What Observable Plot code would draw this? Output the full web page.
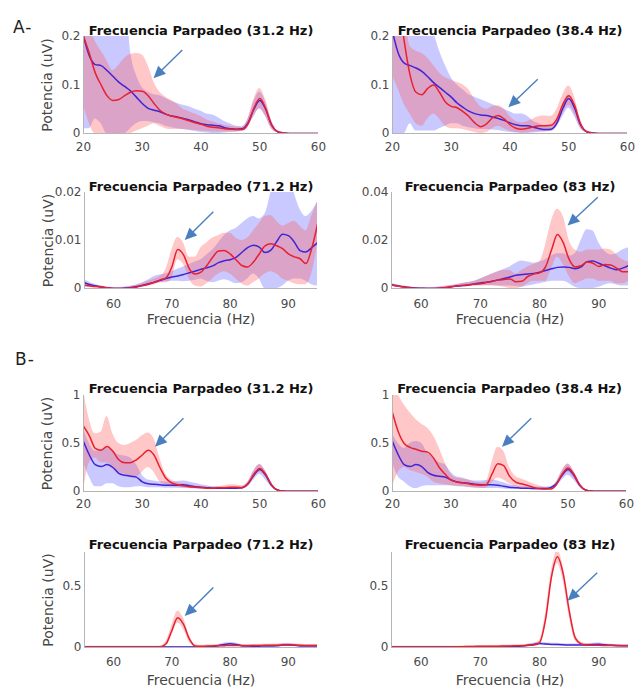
<!DOCTYPE html>
<html><head><meta charset="utf-8">
<script src="https://cdn.jsdelivr.net/npm/d3@7"></script>
<script src="https://cdn.jsdelivr.net/npm/@observablehq/plot@0.6"></script>
<style>
body{margin:0;background:#fff;}
#fig{position:relative;width:635px;height:690px;overflow:hidden;background:#fff;}
.panel{position:absolute;}
.tag{position:absolute;font-family:"DejaVu Sans";font-size:17px;line-height:17px;color:#222;letter-spacing:1px;}
</style></head><body><div id="fig"></div>
<script>
// ---------- DATA ----------
const freqLow = [20,21,22,23,24,25,26,27,28,29,30,31,32,33,34,35,36,37,38,39,40,41,42,43,44,45,46,47,48,49,50,51,52,53,54,55,56,57,58,59,60];
const freqHigh = [55,56,57,58,59,60,61,62,63,64,65,66,67,68,69,70,71,72,73,74,75,76,77,78,79,80,81,82,83,84,85,86,87,88,89,90,91,92,93,94,95];

const titles = ["Frecuencia Parpadeo (31.2 Hz)","Frecuencia Parpadeo (38.4 Hz)","Frecuencia Parpadeo (71.2 Hz)","Frecuencia Parpadeo (83 Hz)",
                "Frecuencia Parpadeo (31.2 Hz)","Frecuencia Parpadeo (38.4 Hz)","Frecuencia Parpadeo (71.2 Hz)","Frecuencia Parpadeo (83 Hz)"];
const sectionLabels = ["A-","B-"];
const yLabel = "Potencia (uV)";
const xLabel = "Frecuencia (Hz)";

const xTicksLow = [20,30,40,50,60], xTickLabelsLow = ["20","30","40","50","60"];
const xTicksHigh = [60,70,80,90], xTickLabelsHigh = ["60","70","80","90"];
const yTicksA1 = [0,0.1,0.2], yTickLabelsA1 = ["0","0.1","0.2"];
const yTicksA3 = [0,0.01,0.02], yTickLabelsA3 = ["0","0.01","0.02"];
const yTicksA4 = [0,0.02,0.04], yTickLabelsA4 = ["0","0.02","0.04"];
const yTicksB1 = [0,0.5,1], yTickLabelsB1 = ["0","0.5","1"];
const yTicksB3 = [0,0.5], yTickLabelsB3 = ["0","0.5"];

// A - 31.2 Hz
const a1Red    = [0.200,0.165,0.125,0.100,0.078,0.068,0.070,0.078,0.085,0.088,0.087,0.078,0.062,0.048,0.040,0.036,0.033,0.030,0.026,0.022,0.019,0.015,0.013,0.012,0.010,0.009,0.008,0.008,0.020,0.052,0.072,0.052,0.018,0.004,0.001,0,0,0,0,0,0];
const a1RedLo  = [0.060,0.020,0,0,0,0,0,0,0,0.005,0.010,0.015,0.020,0.015,0.010,0.008,0.008,0.008,0.007,0.006,0.005,0.004,0.003,0.003,0.003,0.003,0.003,0.004,0.012,0.035,0.052,0.035,0.010,0.002,0,0,0,0,0,0,0];
const a1RedHi  = [0.25,0.22,0.19,0.17,0.15,0.13,0.14,0.155,0.163,0.165,0.162,0.14,0.105,0.085,0.075,0.068,0.06,0.05,0.045,0.04,0.035,0.028,0.024,0.02,0.017,0.015,0.013,0.013,0.03,0.07,0.093,0.07,0.028,0.006,0.002,0,0,0,0,0,0];
const a1Blue   = [0.200,0.160,0.142,0.140,0.130,0.118,0.106,0.097,0.088,0.075,0.062,0.052,0.048,0.045,0.040,0.036,0.034,0.031,0.028,0.024,0.020,0.018,0.017,0.016,0.012,0.010,0.009,0.010,0.022,0.050,0.068,0.050,0.018,0.004,0.001,0,0,0,0,0,0];
const a1BlueLo = [0.01,0.01,0.03,0.02,0,0,0,0,0.01,0.02,0.025,0.025,0.022,0.02,0.015,0.012,0.01,0.008,0.006,0.004,0.002,0.001,0,0,0.001,0.002,0.003,0.005,0.014,0.035,0.05,0.035,0.01,0.002,0,0,0,0,0,0,0];
const a1BlueHi = [0.3,0.3,0.3,0.3,0.3,0.3,0.3,0.3,0.17,0.12,0.095,0.085,0.08,0.078,0.072,0.066,0.062,0.058,0.055,0.05,0.046,0.04,0.038,0.032,0.025,0.02,0.015,0.014,0.03,0.065,0.085,0.065,0.026,0.006,0.002,0,0,0,0,0,0];

// A - 38.4 Hz
const a2Red    = [0.35,0.28,0.19,0.12,0.085,0.080,0.093,0.100,0.085,0.065,0.056,0.053,0.045,0.035,0.022,0.014,0.020,0.032,0.037,0.030,0.018,0.011,0.009,0.011,0.014,0.016,0.016,0.017,0.030,0.060,0.078,0.058,0.020,0.004,0.001,0,0,0,0,0,0];
const a2RedLo  = [0.12,0.09,0.06,0.04,0.02,0.015,0.03,0.04,0.03,0.015,0.01,0.01,0.008,0.005,0.002,0,0.002,0.01,0.015,0.01,0.005,0.002,0.001,0.002,0.003,0.004,0.004,0.005,0.015,0.04,0.058,0.04,0.012,0.002,0,0,0,0,0,0,0];
const a2RedHi  = [0.4,0.35,0.25,0.18,0.17,0.165,0.155,0.14,0.125,0.115,0.11,0.105,0.1,0.09,0.07,0.055,0.05,0.055,0.057,0.05,0.035,0.025,0.022,0.025,0.03,0.035,0.036,0.035,0.05,0.08,0.098,0.075,0.03,0.006,0.002,0,0,0,0,0,0];
const a2Blue   = [0.210,0.165,0.145,0.140,0.135,0.128,0.117,0.105,0.095,0.085,0.075,0.063,0.054,0.046,0.041,0.038,0.037,0.034,0.031,0.027,0.022,0.018,0.016,0.016,0.013,0.010,0.008,0.009,0.022,0.052,0.072,0.052,0.018,0.004,0.001,0,0,0,0,0,0];
const a2BlueLo = [0,0,0,0.02,0.005,0.005,0.005,0.005,0.01,0.015,0.02,0.02,0.015,0.012,0.01,0.008,0.008,0.007,0.006,0.004,0.002,0.001,0,0,0.001,0.002,0.003,0.004,0.014,0.035,0.052,0.035,0.01,0.002,0,0,0,0,0,0,0];
const a2BlueHi = [0.3,0.3,0.3,0.3,0.3,0.3,0.25,0.21,0.17,0.14,0.115,0.10,0.09,0.08,0.075,0.07,0.065,0.06,0.055,0.05,0.045,0.04,0.04,0.035,0.025,0.02,0.015,0.015,0.03,0.06,0.08,0.06,0.025,0.006,0.002,0,0,0,0,0,0];

// A - 71.2 Hz
const a3Red    = [0.0007,0.0005,0.0004,0.0003,0.0001,0,0,0,0.0001,0.0003,0.0006,0.0009,0.0013,0.0018,0.0022,0.0045,0.0081,0.0070,0.0041,0.0030,0.0034,0.0048,0.0065,0.0078,0.0079,0.0072,0.0060,0.0048,0.0045,0.0055,0.0072,0.0089,0.0093,0.0089,0.0083,0.0072,0.0066,0.0062,0.0052,0.0083,0.0134];
const a3RedLo  = [0.0003,0.0002,0.0001,0.0001,0,0,0,0,0,0.0001,0.0003,0.0005,0.0008,0.0012,0.0012,0.002,0.006,0.005,0.002,0.0005,0.0003,0.001,0.002,0.003,0.0035,0.003,0.002,0.001,0.0005,0.0012,0.002,0.003,0.0035,0.003,0.002,0.0015,0.001,0.0008,0.0008,0.003,0.009];
const a3RedHi  = [0.0012,0.0009,0.0006,0.0004,0.0002,0.0001,0.0001,0.0002,0.0004,0.0007,0.0011,0.0015,0.002,0.0025,0.004,0.008,0.0106,0.0095,0.0065,0.0065,0.0085,0.0095,0.0105,0.011,0.0115,0.0115,0.0105,0.01,0.0105,0.012,0.0135,0.015,0.0152,0.014,0.013,0.0135,0.014,0.013,0.012,0.015,0.018];
const a3Blue   = [0.0012,0.0008,0.0005,0.0003,0.0001,0,0,0.0001,0.0002,0.0004,0.0007,0.0010,0.0013,0.0017,0.0021,0.0024,0.0026,0.0029,0.0033,0.0036,0.0040,0.0043,0.0047,0.0054,0.0058,0.0060,0.0065,0.0075,0.0085,0.0090,0.0086,0.0075,0.0080,0.0098,0.0113,0.0110,0.0097,0.0079,0.0076,0.0085,0.0095];
const a3BlueLo = [0.0006,0.0004,0.0002,0.0001,0,0,0,0,0,0.0001,0.0003,0.0006,0.001,0.0012,0.0014,0.0015,0.0015,0.0014,0.0015,0.0017,0.002,0.0015,0.0012,0.0015,0.0018,0.0015,0.001,0.0012,0.002,0.003,0.002,0,0,0,0.0005,0.0015,0.002,0.002,0.0015,0.0008,0.0005];
const a3BlueHi = [0.0018,0.0012,0.0008,0.0005,0.0003,0.0002,0.0002,0.0003,0.0005,0.0008,0.0012,0.0018,0.0025,0.0028,0.003,0.0035,0.004,0.0045,0.005,0.0055,0.006,0.007,0.008,0.0095,0.011,0.012,0.0125,0.0135,0.0145,0.015,0.0145,0.0155,0.02,0.025,0.025,0.025,0.02,0.0165,0.015,0.016,0.018];

// A - 83 Hz
const a4Red    = [0.0015,0.001,0.0006,0.0003,0.0001,0,0,0,0.0001,0.0003,0.0007,0.001,0.0013,0.0016,0.0018,0.002,0.0025,0.003,0.0035,0.0038,0.004,0.0028,0.003,0.005,0.006,0.0065,0.009,0.016,0.0225,0.019,0.012,0.009,0.0095,0.011,0.0105,0.0092,0.010,0.0098,0.0085,0.007,0.007];
const a4RedLo  = [0.001,0.0006,0.0003,0.0001,0,0,0,0,0,0.0001,0.0003,0.0005,0.0007,0.001,0.001,0.001,0.001,0.001,0.0008,0.0005,0,0,0.0005,0.002,0.003,0.003,0.003,0.008,0.013,0.01,0.005,0.002,0.003,0.004,0.004,0.003,0.003,0.003,0.002,0.002,0.003];
const a4RedHi  = [0.002,0.0015,0.001,0.0006,0.0003,0.0002,0.0002,0.0003,0.0005,0.0008,0.0012,0.0016,0.002,0.0025,0.003,0.004,0.005,0.006,0.007,0.0075,0.0075,0.006,0.0075,0.009,0.01,0.011,0.018,0.028,0.033,0.03,0.02,0.016,0.015,0.016,0.016,0.016,0.0165,0.016,0.014,0.012,0.011];
const a4Blue   = [0.0015,0.0011,0.0007,0.0004,0.0002,0.0001,0,0,0.0001,0.0003,0.0006,0.001,0.0012,0.0015,0.0019,0.0023,0.0026,0.003,0.0036,0.0042,0.0048,0.0055,0.0058,0.006,0.0063,0.0068,0.0075,0.0082,0.0088,0.009,0.0088,0.0082,0.009,0.0112,0.0115,0.0105,0.0095,0.0085,0.0078,0.0085,0.0095];
const a4BlueLo = [0.001,0.0007,0.0004,0.0002,0,0,0,0,0,0.0001,0.0003,0.0004,0.0005,0.0008,0.001,0.0012,0.0012,0.0012,0.0011,0.001,0.001,0.0008,0.0005,0.001,0.0015,0.002,0.0025,0.003,0.003,0.003,0.002,0.0005,0,0,0,0.0005,0.0015,0.002,0.0015,0.001,0.001];
const a4BlueHi = [0.002,0.0015,0.001,0.0007,0.0004,0.0003,0.0003,0.0004,0.0006,0.0009,0.0012,0.0017,0.0022,0.0025,0.003,0.004,0.005,0.006,0.007,0.008,0.009,0.0105,0.0115,0.011,0.0105,0.011,0.012,0.0135,0.0145,0.0145,0.0135,0.0145,0.02,0.0245,0.024,0.019,0.0155,0.014,0.0145,0.016,0.017];

// B - 31.2 Hz
const b1Red    = [0.68,0.58,0.45,0.43,0.47,0.42,0.33,0.30,0.30,0.33,0.38,0.43,0.38,0.25,0.14,0.09,0.07,0.06,0.05,0.045,0.04,0.035,0.035,0.038,0.04,0.045,0.045,0.04,0.08,0.18,0.24,0.18,0.07,0.015,0.004,0.002,0.002,0.002,0.002,0.002,0.002];
const b1RedLo  = [0,0.3,0.35,0.3,0.3,0.25,0.2,0.18,0.15,0.15,0.2,0.25,0.2,0.1,0.07,0.05,0.045,0.04,0.035,0.03,0.03,0.025,0.025,0.025,0.025,0.025,0.025,0.025,0.06,0.14,0.2,0.15,0.055,0.01,0.002,0.001,0.001,0.001,0.001,0.001,0.001];
const b1RedHi  = [1.05,0.75,0.6,0.62,0.78,0.6,0.5,0.48,0.5,0.53,0.58,0.61,0.55,0.35,0.18,0.12,0.09,0.08,0.07,0.06,0.05,0.045,0.045,0.05,0.06,0.07,0.068,0.06,0.1,0.22,0.28,0.21,0.085,0.02,0.006,0.003,0.003,0.003,0.003,0.003,0.003];
const b1Blue   = [0.52,0.38,0.28,0.26,0.28,0.25,0.19,0.17,0.16,0.15,0.10,0.08,0.075,0.07,0.065,0.065,0.065,0.07,0.06,0.05,0.045,0.04,0.035,0.035,0.035,0.035,0.035,0.04,0.08,0.17,0.23,0.17,0.065,0.015,0.004,0.002,0.002,0.002,0.002,0.002,0.002];
const b1BlueLo = [0.3,0.15,0.05,0.05,0.08,0.08,0.05,0.04,0.04,0.05,0.05,0.04,0.04,0.04,0.035,0.035,0.035,0.03,0.03,0.025,0.025,0.02,0.02,0.02,0.02,0.02,0.02,0.025,0.05,0.12,0.18,0.12,0.045,0.01,0.002,0.001,0.001,0.001,0.001,0.001,0.001];
const b1BlueHi = [0.65,0.5,0.42,0.43,0.45,0.42,0.38,0.37,0.35,0.28,0.17,0.12,0.11,0.1,0.1,0.1,0.105,0.11,0.1,0.085,0.07,0.06,0.05,0.05,0.045,0.045,0.045,0.05,0.1,0.21,0.28,0.21,0.085,0.02,0.006,0.003,0.003,0.003,0.003,0.003,0.003];

// B - 38.4 Hz
const b2Red    = [0.82,0.62,0.50,0.46,0.44,0.42,0.41,0.35,0.25,0.18,0.12,0.10,0.09,0.08,0.07,0.065,0.07,0.18,0.29,0.27,0.16,0.10,0.08,0.065,0.045,0.03,0.025,0.025,0.07,0.18,0.245,0.18,0.07,0.015,0.004,0.002,0.002,0.002,0.002,0.002,0.002];
const b2RedLo  = [0.05,0.2,0.25,0.22,0.2,0.18,0.15,0.1,0.08,0.07,0.06,0.05,0.05,0.04,0.035,0.03,0.035,0.09,0.14,0.12,0.08,0.05,0.04,0.03,0.02,0.015,0.012,0.012,0.05,0.14,0.2,0.14,0.055,0.01,0.002,0.001,0.001,0.001,0.001,0.001,0.001];
const b2RedHi  = [1.05,1.0,0.9,0.82,0.75,0.7,0.66,0.58,0.45,0.3,0.18,0.14,0.13,0.12,0.1,0.09,0.1,0.3,0.46,0.42,0.25,0.16,0.13,0.11,0.08,0.06,0.045,0.04,0.09,0.22,0.29,0.21,0.085,0.02,0.006,0.003,0.003,0.003,0.003,0.003,0.003];
const b2Blue   = [0.52,0.38,0.28,0.26,0.28,0.26,0.20,0.17,0.16,0.15,0.12,0.10,0.09,0.085,0.075,0.07,0.07,0.07,0.065,0.055,0.045,0.04,0.035,0.035,0.03,0.03,0.03,0.04,0.08,0.17,0.23,0.17,0.065,0.015,0.004,0.002,0.002,0.002,0.002,0.002,0.002];
const b2BlueLo = [0.3,0.15,0.1,0.05,0.03,0.05,0.06,0.06,0.06,0.06,0.06,0.055,0.05,0.045,0.04,0.035,0.03,0.03,0.03,0.025,0.02,0.02,0.02,0.02,0.015,0.015,0.015,0.02,0.05,0.12,0.17,0.12,0.045,0.01,0.002,0.001,0.001,0.001,0.001,0.001,0.001];
const b2BlueHi = [0.6,0.5,0.45,0.5,0.52,0.5,0.4,0.35,0.3,0.28,0.2,0.15,0.14,0.12,0.11,0.11,0.115,0.12,0.11,0.09,0.07,0.06,0.05,0.05,0.045,0.045,0.045,0.05,0.1,0.21,0.28,0.21,0.085,0.02,0.006,0.003,0.003,0.003,0.003,0.003,0.003];

// B - 71.2 Hz
const b3Red    = [0.004,0.004,0.004,0.004,0.004,0.004,0.004,0.004,0.004,0.004,0.004,0.004,0.004,0.005,0.03,0.14,0.245,0.19,0.07,0.012,0.01,0.012,0.013,0.014,0.015,0.016,0.016,0.015,0.015,0.016,0.017,0.018,0.018,0.019,0.02,0.021,0.02,0.018,0.017,0.016,0.016];
const b3RedLo  = [0,0,0,0,0,0,0,0,0,0,0,0,0,0.001,0.015,0.1,0.2,0.15,0.045,0.005,0.004,0.005,0.006,0.007,0.007,0.008,0.008,0.008,0.008,0.009,0.009,0.01,0.01,0.011,0.012,0.012,0.012,0.01,0.009,0.009,0.009];
const b3RedHi  = [0.01,0.01,0.01,0.01,0.01,0.01,0.01,0.01,0.01,0.01,0.01,0.01,0.01,0.012,0.05,0.18,0.3,0.24,0.1,0.025,0.018,0.02,0.021,0.022,0.024,0.025,0.025,0.023,0.023,0.024,0.025,0.026,0.027,0.028,0.029,0.03,0.029,0.027,0.025,0.024,0.024];
const b3Blue   = [0.004,0.004,0.004,0.004,0.004,0.004,0.004,0.004,0.004,0.004,0.004,0.004,0.004,0.004,0.004,0.004,0.004,0.004,0.004,0.004,0.004,0.004,0.008,0.015,0.025,0.03,0.025,0.015,0.012,0.01,0.011,0.012,0.012,0.014,0.02,0.022,0.018,0.013,0.012,0.012,0.012];
const b3BlueLo = [0.001,0.001,0.001,0.001,0.001,0.001,0.001,0.001,0.001,0.001,0.001,0.001,0.001,0.001,0.001,0.001,0.001,0.001,0.001,0.001,0.001,0.001,0.003,0.007,0.014,0.018,0.014,0.008,0.006,0.004,0.005,0.006,0.006,0.007,0.011,0.013,0.01,0.007,0.006,0.006,0.006];
const b3BlueHi = [0.008,0.008,0.008,0.008,0.008,0.008,0.008,0.008,0.008,0.008,0.008,0.008,0.008,0.008,0.008,0.008,0.008,0.008,0.008,0.008,0.008,0.008,0.014,0.024,0.036,0.042,0.036,0.024,0.02,0.018,0.018,0.019,0.02,0.022,0.03,0.032,0.027,0.02,0.019,0.019,0.019];

// B - 83 Hz
const b4Red    = [0.005,0.005,0.005,0.005,0.005,0.005,0.005,0.005,0.005,0.005,0.005,0.006,0.007,0.008,0.009,0.01,0.01,0.01,0.011,0.012,0.013,0.014,0.015,0.017,0.02,0.04,0.23,0.58,0.745,0.6,0.3,0.08,0.03,0.02,0.018,0.018,0.017,0.016,0.015,0.015,0.015];
const b4RedLo  = [0.001,0.001,0.001,0.001,0.001,0.001,0.001,0.001,0.001,0.001,0.001,0.002,0.002,0.003,0.003,0.004,0.004,0.004,0.005,0.005,0.006,0.007,0.008,0.009,0.011,0.025,0.18,0.52,0.69,0.54,0.25,0.055,0.018,0.012,0.01,0.01,0.009,0.008,0.008,0.008,0.008];
const b4RedHi  = [0.01,0.01,0.01,0.01,0.01,0.01,0.01,0.01,0.01,0.01,0.01,0.011,0.012,0.013,0.014,0.015,0.016,0.016,0.017,0.018,0.02,0.021,0.022,0.025,0.03,0.06,0.28,0.63,0.8,0.66,0.35,0.11,0.045,0.03,0.027,0.026,0.025,0.024,0.022,0.022,0.022];
const b4Blue   = [0.004,0.004,0.004,0.004,0.004,0.004,0.004,0.004,0.004,0.004,0.004,0.004,0.004,0.004,0.004,0.004,0.004,0.004,0.004,0.004,0.006,0.008,0.012,0.018,0.025,0.032,0.028,0.025,0.024,0.022,0.02,0.02,0.02,0.021,0.024,0.026,0.022,0.018,0.016,0.015,0.015];
const b4BlueLo = [0.001,0.001,0.001,0.001,0.001,0.001,0.001,0.001,0.001,0.001,0.001,0.001,0.001,0.001,0.001,0.001,0.001,0.001,0.001,0.001,0.002,0.003,0.006,0.01,0.015,0.021,0.018,0.016,0.015,0.014,0.012,0.012,0.012,0.013,0.015,0.017,0.014,0.011,0.01,0.009,0.009];
const b4BlueHi = [0.008,0.008,0.008,0.008,0.008,0.008,0.008,0.008,0.008,0.008,0.008,0.008,0.008,0.008,0.008,0.008,0.008,0.008,0.008,0.008,0.011,0.014,0.019,0.027,0.035,0.043,0.038,0.035,0.034,0.031,0.029,0.029,0.029,0.03,0.034,0.036,0.031,0.026,0.023,0.022,0.022];

// annotation arrows (tail -> head), in data units
const arrowX1 = [36.9, 44.8, 77.2, 89.9, 37.1, 43.8, 77.2, 89.8];
const arrowY1 = [0.171, 0.111, 0.0159, 0.0378, 0.757, 0.757, 0.489, 0.609];
const arrowX2 = [32.0, 39.8, 72.3, 84.8, 32.25, 38.8, 72.3, 84.8];
const arrowY2 = [0.113, 0.053, 0.0100, 0.026, 0.461, 0.461, 0.254, 0.38];

// ---------- STYLE ----------
const RED = "#e8202f", BLUE = "#4124d4";
const RED_FILL = "#ff5c5c", BLUE_FILL = "#7070ff";
const AXIS = "#b5b5b5", ARROW = "#4a7fbf";
const FONT = "DejaVu Sans";

const panels = [
  {i:0, f:freqLow, s:[a1Red,a1RedLo,a1RedHi,a1Blue,a1BlueLo,a1BlueHi], xd:[20,60], yd:[0,0.2], xt:xTicksLow, xl:xTickLabelsLow, yt:yTicksA1, yl:yTickLabelsA1, ylab:true, xlab:false,
   L:{left:0,top:0,w:330,h:165,ml:83,mr:12,mt:36,mb:32}, tdy:-11, xpad:9},
  {i:1, f:freqLow, s:[a2Red,a2RedLo,a2RedHi,a2Blue,a2BlueLo,a2BlueHi], xd:[20,60], yd:[0,0.2], xt:xTicksLow, xl:xTickLabelsLow, yt:yTicksA1, yl:yTickLabelsA1, ylab:false, xlab:false,
   L:{left:315,top:0,w:320,h:165,ml:77,mr:8,mt:36,mb:32}, tdy:-11, xpad:9},
  {i:2, f:freqHigh, s:[a3Red,a3RedLo,a3RedHi,a3Blue,a3BlueLo,a3BlueHi], xd:[55,95], yd:[0,0.02], xt:xTicksHigh, xl:xTickLabelsHigh, yt:yTicksA3, yl:yTickLabelsA3, ylab:true, xlab:true,
   L:{left:0,top:165,w:330,h:175,ml:84,mr:13,mt:27,mb:52}, tdy:-10.5, xpad:11, xldy:25.5},
  {i:3, f:freqHigh, s:[a4Red,a4RedLo,a4RedHi,a4Blue,a4BlueLo,a4BlueHi], xd:[55,95], yd:[0,0.04], xt:xTicksHigh, xl:xTickLabelsHigh, yt:yTicksA4, yl:yTickLabelsA4, ylab:false, xlab:true,
   L:{left:315,top:165,w:320,h:175,ml:76,mr:7,mt:27,mb:52}, tdy:-10.5, xpad:11, xldy:25.5},
  {i:4, f:freqLow, s:[b1Red,b1RedLo,b1RedHi,b1Blue,b1BlueLo,b1BlueHi], xd:[20,60], yd:[0,1], xt:xTicksLow, xl:xTickLabelsLow, yt:yTicksB1, yl:yTickLabelsB1, ylab:true, xlab:false,
   L:{left:0,top:340,w:330,h:170,ml:83,mr:12,mt:55,mb:19}, tdy:-11.5, xpad:8},
  {i:5, f:freqLow, s:[b2Red,b2RedLo,b2RedHi,b2Blue,b2BlueLo,b2BlueHi], xd:[20,60], yd:[0,1], xt:xTicksLow, xl:xTickLabelsLow, yt:yTicksB1, yl:yTickLabelsB1, ylab:false, xlab:false,
   L:{left:315,top:340,w:320,h:170,ml:77,mr:9,mt:55,mb:19}, tdy:-11.5, xpad:8},
  {i:6, f:freqHigh, s:[b3Red,b3RedLo,b3RedHi,b3Blue,b3BlueLo,b3BlueHi], xd:[55,95], yd:[0,0.78], xt:xTicksHigh, xl:xTickLabelsHigh, yt:yTicksB3, yl:yTickLabelsB3, ylab:true, xlab:true,
   L:{left:0,top:510,w:330,h:180,ml:84,mr:13,mt:42,mb:43}, tdy:-13, xpad:10, xldy:28},
  {i:7, f:freqHigh, s:[b4Red,b4RedLo,b4RedHi,b4Blue,b4BlueLo,b4BlueHi], xd:[55,95], yd:[0,0.78], xt:xTicksHigh, xl:xTickLabelsHigh, yt:yTicksB3, yl:yTickLabelsB3, ylab:false, xlab:true,
   L:{left:315,top:510,w:320,h:180,ml:76,mr:7,mt:42,mb:43}, tdy:-13, xpad:10, xldy:28}
];

function arrowMark(k){
  return (index, scales) => {
    const sx = scales.x(arrowX1[k]), sy = scales.y(arrowY1[k]);
    const tx = scales.x(arrowX2[k]), ty = scales.y(arrowY2[k]);
    const dx = tx - sx, dy = ty - sy, len = Math.hypot(dx, dy);
    const ux = dx / len, uy = dy / len, HL = 12, HW = 5.5;
    const bx = tx - ux * HL, by = ty - uy * HL;
    const g = d3.create("svg:g");
    g.append("line").attr("x1", sx).attr("y1", sy).attr("x2", bx + ux).attr("y2", by + uy)
      .attr("stroke", ARROW).attr("stroke-width", 1.4);
    g.append("path").attr("d", `M${tx},${ty}L${bx - uy * HW},${by + ux * HW}L${bx + uy * HW},${by - ux * HW}Z`)
      .attr("fill", ARROW);
    return g.node();
  };
}

const fig = document.getElementById("fig");
const curve = "monotone-x";
for (const p of panels) {
  const [r, rl, rh, b, bl, bh] = p.s;
  const rows = p.f.map((f, j) => ({f, r: r[j], rl: rl[j], rh: rh[j], b: b[j], bl: bl[j], bh: bh[j]}));
  const marks = [
    Plot.areaY(rows, {x: "f", y1: "bl", y2: "bh", fill: BLUE_FILL, fillOpacity: 0.38, curve, clip: true}),
    Plot.areaY(rows, {x: "f", y1: "rl", y2: "rh", fill: RED_FILL, fillOpacity: 0.34, curve, clip: true}),
    Plot.lineY(rows, {x: "f", y: "b", stroke: BLUE, strokeWidth: 1.5, curve, clip: true}),
    Plot.lineY(rows, {x: "f", y: "r", stroke: RED, strokeWidth: 1.5, curve, clip: true}),
    Plot.ruleX([p.xd[0]], {stroke: AXIS, strokeWidth: 1}),
    Plot.ruleY([0], {stroke: AXIS, strokeWidth: 1}),
    arrowMark(p.i),
    Plot.text([titles[p.i]], {text: d => d, frameAnchor: "top", dy: p.tdy, fontWeight: "bold", fontSize: 13, fontFamily: FONT, fill: "#111"})
  ];
  if (p.ylab) marks.push(Plot.text([yLabel], {text: d => d, frameAnchor: "left", textAnchor: "middle", dx: -36, rotate: -90, fontSize: 14, fontFamily: FONT, fill: "#474747"}));
  if (p.xlab) marks.push(Plot.text([xLabel], {text: d => d, frameAnchor: "bottom", dy: p.xldy, lineAnchor: "top", fontSize: 14, fontFamily: FONT, fill: "#474747"}));
  const chart = Plot.plot({
    width: p.L.w, height: p.L.h,
    marginLeft: p.L.ml, marginRight: p.L.mr, marginTop: p.L.mt, marginBottom: p.L.mb,
    style: {background: "transparent", overflow: "visible", fontFamily: FONT, fontSize: "12px", color: "#4a4a4a", maxWidth: "none"},
    x: {domain: p.xd, ticks: p.xt, tickFormat: d => p.xl[p.xt.indexOf(d)], tickSize: 0, tickPadding: p.xpad, label: null},
    y: {domain: p.yd, ticks: p.yt, tickFormat: d => p.yl[p.yt.indexOf(d)], tickSize: 0, tickPadding: 3, label: null},
    marks
  });
  const div = document.createElement("div");
  div.className = "panel";
  div.style.left = p.L.left + "px"; div.style.top = p.L.top + "px";
  div.style.width = p.L.w + "px"; div.style.height = p.L.h + "px";
  div.appendChild(chart);
  fig.appendChild(div);
}
// section tags
const tagPos = [{left:13, top:19}, {left:15, top:351}];
sectionLabels.forEach((t, k) => {
  const d = document.createElement("div");
  d.className = "tag"; d.textContent = t;
  d.style.left = tagPos[k].left + "px"; d.style.top = tagPos[k].top + "px";
  fig.appendChild(d);
});
</script></body></html>
